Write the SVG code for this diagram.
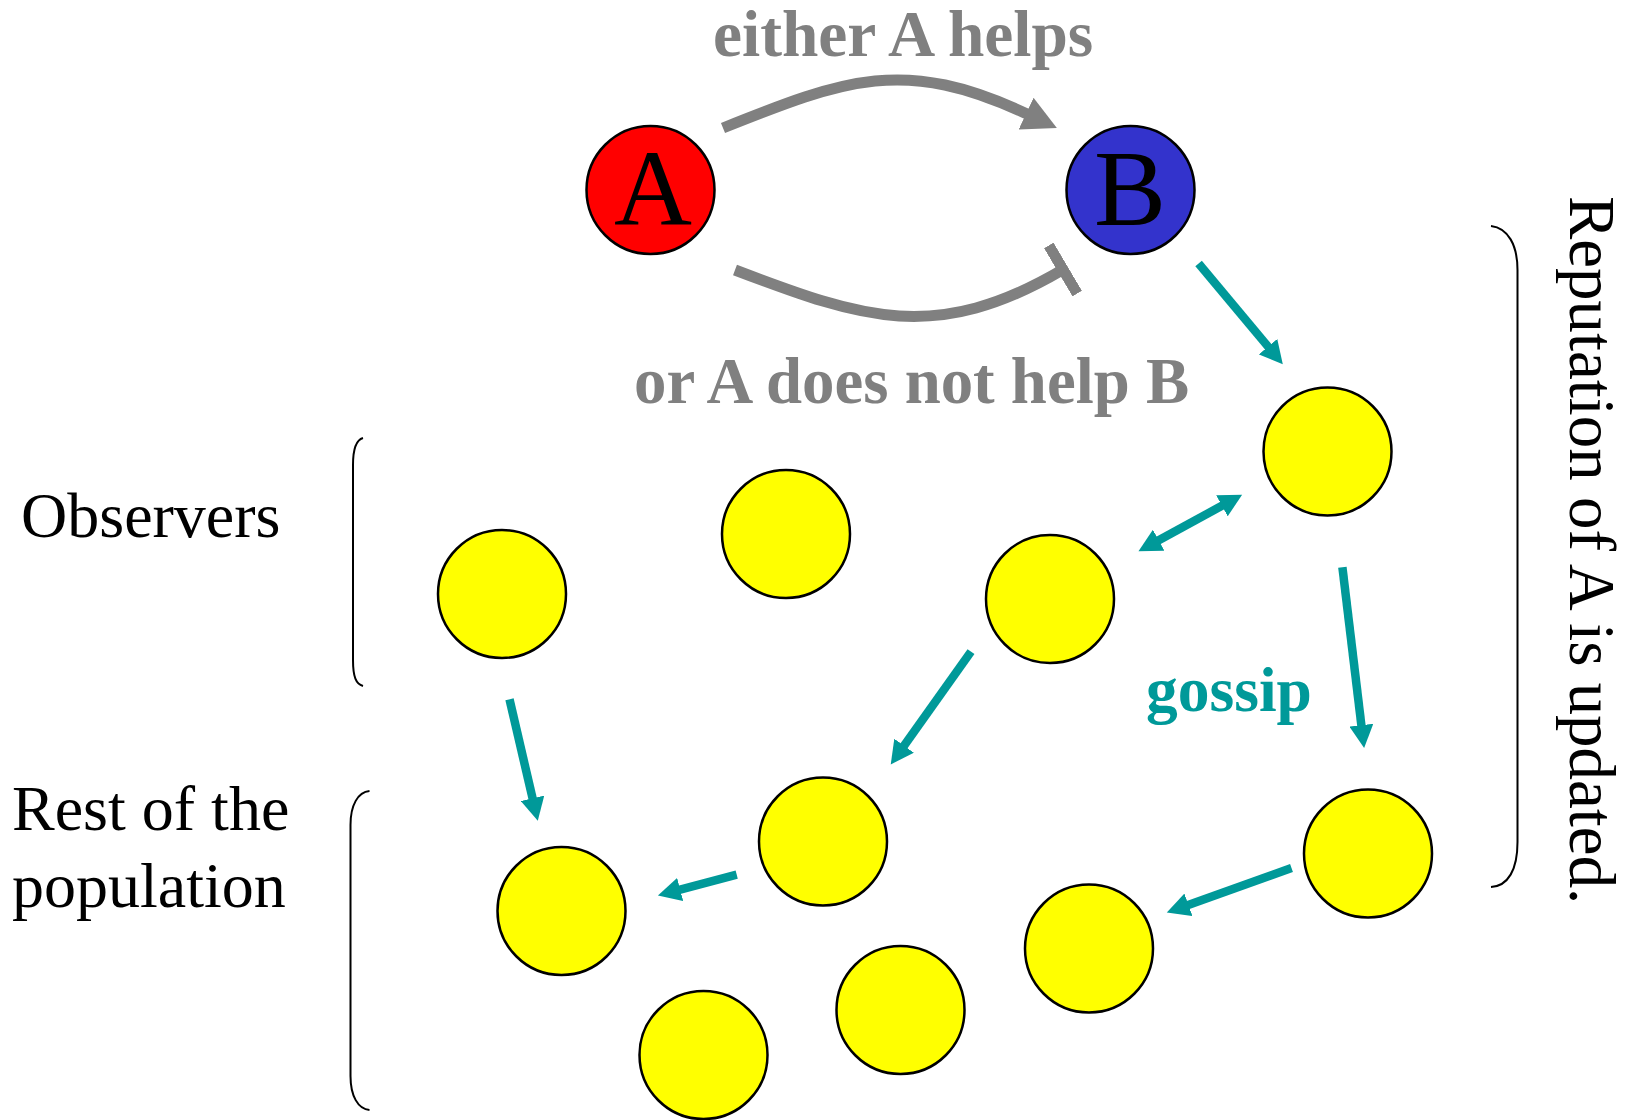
<svg xmlns="http://www.w3.org/2000/svg" width="1627" height="1120" viewBox="0 0 1627 1120">
<style>
.node{stroke:#000;stroke-width:2.5}
.y{fill:#FFFF00}
.lbl{font-family:"Liberation Serif","Times New Roman",serif;font-size:64px}
.b{font-weight:bold}
.gray{fill:#808080}
.teal{fill:#009999}
.big{font-family:"Liberation Serif","Times New Roman",serif;font-size:108px;fill:#000;text-anchor:middle}
.tl{fill:none;stroke:#009999;stroke-width:8.5;marker-end:url(#tealHead)}
.gl{fill:none;stroke:#808080;stroke-width:11}
.br{fill:none;stroke:#000;stroke-width:2}
</style>
<defs>
<marker id="tealHead" markerUnits="userSpaceOnUse" markerWidth="24" markerHeight="24" refX="1" refY="12" orient="auto-start-reverse"><path d="M0,0 L23,12 L0,24 Z" fill="#009999"/></marker>
<marker id="grayHead" markerUnits="userSpaceOnUse" markerWidth="35" markerHeight="35" refX="1" refY="17.5" orient="auto"><path d="M0,0 L34,17.5 L0,35 Z" fill="#808080"/></marker>
<marker id="grayBar" markerUnits="userSpaceOnUse" markerWidth="11" markerHeight="56" refX="5.5" refY="28" orient="auto"><rect x="0" y="0" width="11" height="56" fill="#808080"/></marker>
</defs>
<rect width="1627" height="1120" fill="#fff"/>

<g id="connectors">
<path class="gl" d="M723,128 C845.6,79 904.4,56.4 1027,114" marker-end="url(#grayHead)"/>
<path class="gl" d="M735,270 C862,318.3 936,344.4 1063,269.5" marker-end="url(#grayBar)"/>
<path class="tl" d="M1198.6,263.5 L1268.7,347.4"/>
<path class="tl" d="M1157.8,540.7 L1222.8,505.3" marker-start="url(#tealHead)"/>
<path class="tl" d="M1342.4,567.3 L1361.5,726.2"/>
<path class="tl" d="M1291.5,868 L1187.5,905.2"/>
<path class="tl" d="M971,651.6 L903.5,746.5"/>
<path class="tl" d="M736.7,874.7 L679.2,889.8"/>
<path class="tl" d="M509.5,699.3 L532.8,799.3"/>
</g>

<g id="node-A"><circle class="node" cx="650.5" cy="190" r="64" fill="#FF0000"/><text class="big" x="653" y="225">A</text></g>
<g id="node-B"><circle class="node" cx="1130.5" cy="190" r="64" fill="#3333CC"/><text class="big" x="1130" y="225">B</text></g>
<g id="node-1"><circle class="node y" cx="1327.5" cy="451.5" r="64"/></g>
<g id="node-2"><circle class="node y" cx="786" cy="534" r="64"/></g>
<g id="node-3"><circle class="node y" cx="502" cy="594" r="64"/></g>
<g id="node-4"><circle class="node y" cx="1050" cy="599" r="64"/></g>
<g id="node-5"><circle class="node y" cx="823" cy="841.5" r="64"/></g>
<g id="node-6"><circle class="node y" cx="1368" cy="853.5" r="64"/></g>
<g id="node-7"><circle class="node y" cx="561.5" cy="911" r="64"/></g>
<g id="node-8"><circle class="node y" cx="1089" cy="948.5" r="64"/></g>
<g id="node-9"><circle class="node y" cx="900.5" cy="1010" r="64"/></g>
<g id="node-10"><circle class="node y" cx="703.5" cy="1055" r="64"/></g>

<g id="labels">
<text class="lbl b gray" x="713" y="56" style="font-size:65.4px">either A helps</text>
<text class="lbl b gray" x="634" y="403" style="font-size:64.8px">or A does not help B</text>
<text class="lbl b teal" x="1146" y="711" style="font-size:63.5px">gossip</text>
<text class="lbl" x="21" y="537">Observers</text>
<text class="lbl" x="12" y="830">Rest of the</text>
<text class="lbl" x="12" y="907">population</text>
<text class="lbl" transform="translate(1570,196) rotate(90)" style="font-size:64.9px">Reputation of A is updated.</text>
</g>

<g id="brackets">
<path class="br" d="M363,438 C356,440 353,448 353,465 L353,660 C353,677 356,684 363,686"/>
<path class="br" d="M369.5,791 C358,792 350.5,805 350.5,825 L350.5,1076 C350.5,1096 358,1109 369.5,1110"/>
<path class="br" d="M1491,226 C1508,228 1517.5,245 1517.5,270 L1517.5,842 C1517.5,870 1508,886 1491,887"/>
</g>
</svg>
